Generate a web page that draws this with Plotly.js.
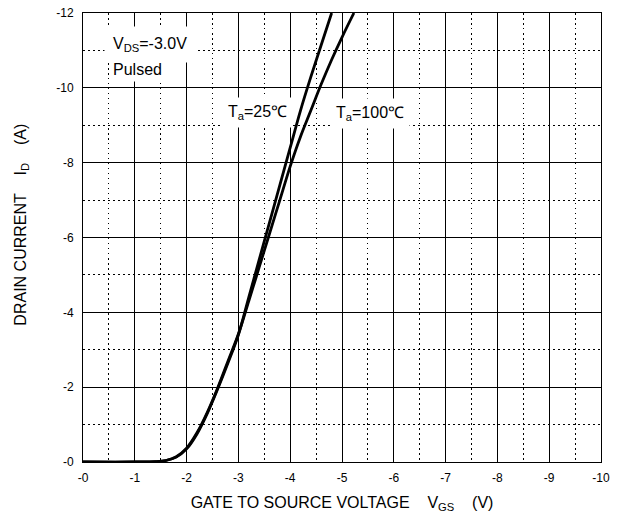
<!DOCTYPE html>
<html><head><meta charset="utf-8">
<script src="https://cdn.plot.ly/plotly-3.0.1.min.js"></script>
<style>html,body{margin:0;padding:0;background:#fff;}</style>
</head><body>
<div id="chart" style="width:622px;height:519px;"></div>
<script>
// Gate-source voltage (V) and drain current (A)
const vgs25 = [0, -1.0, -1.4, -1.6, -1.8, -2.0, -2.2, -2.4, -2.6, -2.8, -3.0, -3.2, -3.4, -3.6, -3.8, -4.0, -4.2, -4.4, -4.6, -4.8];
const id25  = [0, 0, -0.01, -0.04, -0.13, -0.35, -0.75, -1.3, -1.95, -2.65, -3.4, -4.4, -5.4, -6.4, -7.4, -8.4, -9.4, -10.3, -11.15, -12.0];
const vgs100 = [0, -1.0, -1.4, -1.6, -1.8, -2.0, -2.2, -2.4, -2.6, -2.8, -3.0, -3.2, -3.4, -3.6, -3.8, -4.0, -4.2, -4.4, -4.6, -4.8, -5.0, -5.23];
const id100  = [0, 0, -0.01, -0.04, -0.14, -0.37, -0.78, -1.33, -1.98, -2.7, -3.42, -4.3, -5.2, -6.1, -7.0, -7.9, -8.7, -9.4, -10.1, -10.75, -11.35, -12.0];
const xTicks = [0, -1, -2, -3, -4, -5, -6, -7, -8, -9, -10];
const xTickText = ['-0', '-1', '-2', '-3', '-4', '-5', '-6', '-7', '-8', '-9', '-10'];
const yTicks = [0, -2, -4, -6, -8, -10, -12];
const yTickText = ['-0', '-2', '-4', '-6', '-8', '-10', '-12'];

const font = 'Liberation Sans, Arial, sans-serif';
const traces = [
  {x: vgs25, y: id25, mode: 'lines', line: {color: '#000', width: 2.8, shape: 'spline'}, name: 'Ta=25'},
  {x: vgs100, y: id100, mode: 'lines', line: {color: '#000', width: 2.8, shape: 'spline'}, name: 'Ta=100'}
];
const minorGrid = {showgrid: true, gridcolor: '#000', gridwidth: 1, griddash: '1.5px,3.5px'};
const axisCommon = {
  showline: true, mirror: true, linecolor: '#000', linewidth: 1,
  showgrid: true, gridcolor: '#000', gridwidth: 1,
  zeroline: false, ticks: '', tickfont: {family: font, size: 12, color: '#000'},
  tickmode: 'array'
};
const nb = '\u00a0';
const layout = {
  width: 622, height: 519,
  margin: {l: 83, r: 21, t: 13, b: 57},
  paper_bgcolor: '#fff', plot_bgcolor: '#fff',
  showlegend: false,
  font: {family: font, color: '#000'},
  xaxis: Object.assign({}, axisCommon, {
    range: [0, -10], tickvals: xTicks, ticktext: xTickText, ticklabelstandoff: 5,
    minor: Object.assign({dtick: 0.5, tick0: 0}, minorGrid),
    title: {text: 'GATE TO SOURCE VOLTAGE' + nb.repeat(4) + 'V<sub>GS</sub>' + nb.repeat(4) + '(V)', font: {family: font, size: 16, color: '#000'}, standoff: 12}
  }),
  yaxis: Object.assign({}, axisCommon, {
    range: [0, -12], tickvals: yTicks, ticktext: yTickText, ticklabelstandoff: 6,
    minor: Object.assign({dtick: 1, tick0: 0}, minorGrid)
  }),
  annotations: [
    {xref: 'paper', yref: 'paper', x: -0.1183, y: 0.528, xanchor: 'center', yanchor: 'middle', textangle: -90, showarrow: false,
     text: 'DRAIN CURRENT' + nb.repeat(4) + 'I<sub>D</sub>' + nb.repeat(4) + '(A)', font: {family: font, size: 16, color: '#000'}},
    {x: -0.41, y: -11.17, xanchor: 'left', yanchor: 'middle', showarrow: false, text: 'V<sub>DS</sub>=-3.0V', font: {family: font, size: 16, color: '#000'}, bgcolor: '#fff', borderpad: 8},
    {x: -0.50, y: -10.49, xanchor: 'left', yanchor: 'middle', showarrow: false, text: 'Pulsed', font: {family: font, size: 16, color: '#000'}, bgcolor: '#fff', borderpad: 3},
    {x: -2.68, y: -9.33, xanchor: 'left', yanchor: 'middle', showarrow: false, text: 'T<sub>a</sub>=25℃', font: {family: font, size: 16, color: '#000'}, bgcolor: '#fff', borderpad: 5},
    {x: -4.77, y: -9.31, xanchor: 'left', yanchor: 'middle', showarrow: false, text: 'T<sub>a</sub>=100℃', font: {family: font, size: 16, color: '#000'}, bgcolor: '#fff', borderpad: 5}
  ]
};
Plotly.newPlot('chart', traces, layout, {staticPlot: true, displayModeBar: false});
</script>
</body></html>
